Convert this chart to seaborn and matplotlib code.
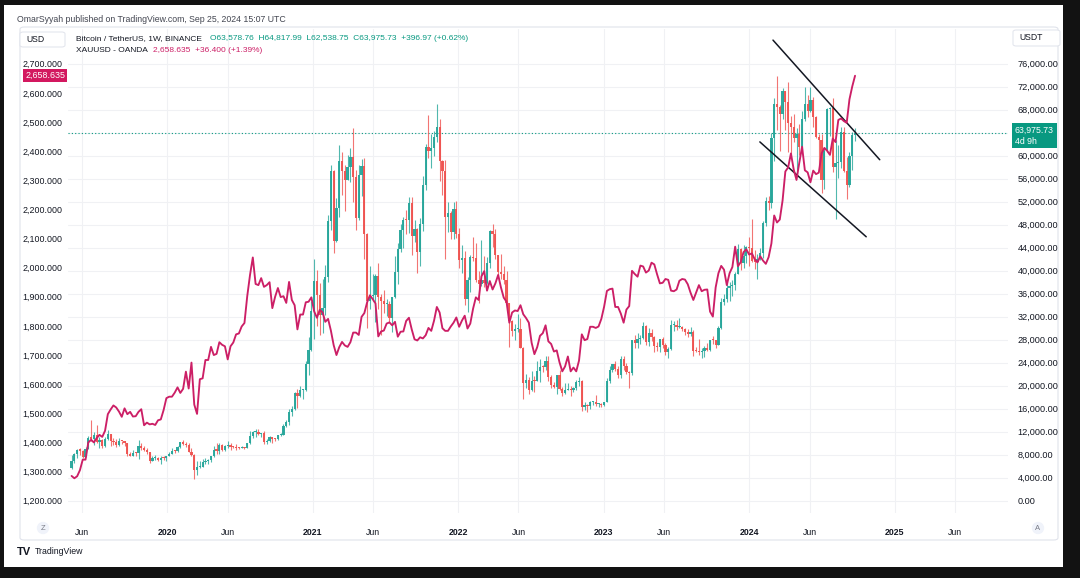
import numpy as np
import pandas as pd
import seaborn as sns
import matplotlib
matplotlib.use("Agg")
from matplotlib import pyplot as plt
from matplotlib.patches import FancyBboxPatch, Rectangle
from matplotlib.ticker import FuncFormatter

# ---- data: BTCUSDT weekly (Binance) + XAUUSD weekly close (Oanda) ----
first_week = "2019-05-06"
btc_first_open = 5690

btc_close = [
    # 2019
    6960, 8150, 8740, 8725, 7640, 8990, 10850, 10800, 11450, 10200, 10530, 9490, 10800,
    11550, 10310, 10140, 9630, 10400, 10300, 10030, 8040, 7860, 8280, 8220, 9550, 9200,
    8800, 8500, 6900, 7400, 7500, 7100, 7500, 7380, 7760,
    # 2020
    8180, 8700, 8600, 9330, 10150, 9900, 9660, 8530, 8030, 5360, 5800, 5880, 6770,
    6860, 7120, 7700, 8900, 8720, 9680, 8900, 9450, 9740, 9340, 9300, 9180, 9080,
    9300, 9160, 9950, 11200, 11900, 11900, 11650, 11700, 10250, 10330, 11080, 10770, 10670,
    11370, 11500, 13030, 13760, 15480, 16000, 18700, 18180, 19170, 19270, 23860, 26270, 33000,
    # 2021
    38150, 35790, 32260, 33510, 38850, 48580, 57400, 45130, 50970, 59030, 57360, 55800, 58080,
    59770, 56250, 49100, 56600, 58250, 46450, 34770, 35660, 35800, 39100, 35480, 34700, 34230,
    34240, 31780, 35400, 39850, 43800, 47100, 48900, 48850, 51800, 46060, 47250, 43200, 48200,
    54950, 61530, 60850, 61300, 63300, 65000, 59000, 57270, 49400, 50100, 46700, 50800, 46450,
    # 2022
    41860, 42200, 35050, 38460, 42400, 42200, 38350, 37700, 38400, 37780, 41260, 46820, 46400,
    42750, 39700, 39450, 38460, 34300, 31300, 29450, 29860, 29900, 26600, 20550, 21030, 19300,
    20850, 20800, 22580, 23300, 23180, 24300, 21530, 20040, 19800, 21830, 19420, 18800, 19300,
    19400, 19260, 19570, 20630, 20900, 16330, 16700, 16450, 17100, 17100, 16750, 16840, 16620,
    # 2023
    17130, 20880, 22700, 23750, 22950, 21800, 24650, 23500, 22430, 22150, 27950, 27480, 28180,
    28320, 30300, 27590, 29230, 28430, 26920, 26750, 28080, 27100, 25900, 26340, 30470, 30580,
    30170, 30250, 29850, 29280, 29050, 29300, 26050, 26000, 25850, 26100, 26570, 26250, 27970,
    27900, 27150, 29990, 34550, 35000, 37050, 37350, 37450, 39450, 43780, 41370, 42550, 44180,
    # 2024
    43950, 41730, 41580, 42050, 43000, 48300, 52100, 51700, 63100, 68950, 68400, 67200, 71300,
    69350, 65650, 64950, 63100, 63850, 61550, 66300, 69050, 67750, 69650, 66650, 63200, 62700,
    55850, 60800, 68150, 68250, 58100, 58700, 58900, 64200, 57300, 54850, 59950, 63578.76, 63975.73,
]

btc_high = [
    # 2019
    7950, 8300, 8950, 9100, 8830, 9400, 11230, 13970, 12000, 13200, 11100, 10650, 11000,
    12320, 11550, 10950, 10650, 10950, 10450, 10350, 10050, 8500, 8800, 8400, 10540, 9950,
    9600, 9100, 8500, 7850, 7950, 7650, 7700, 7700, 7850,
    # 2020
    8450, 9200, 8800, 9600, 10160, 10500, 10250, 9960, 9190, 8200, 6900, 6980, 7300,
    7460, 7290, 7800, 9460, 10000, 9950, 9900, 9740, 10400, 10000, 9590, 9780, 9380,
    9480, 9400, 10000, 12100, 12100, 12490, 12480, 11800, 12100, 10800, 11180, 11100, 10950,
    11500, 11720, 13350, 14100, 15970, 16480, 18900, 19480, 19920, 19400, 24300, 28400, 34780,
    # 2021
    41950, 40100, 37850, 38530, 40950, 49700, 58350, 57500, 52650, 61780, 60600, 58400, 60200,
    61300, 64850, 57500, 58450, 59500, 59600, 46600, 40900, 39480, 39500, 41300, 36000, 36600,
    35100, 34650, 34500, 42600, 44800, 48150, 49380, 50500, 52900, 52900, 48850, 47400, 49200,
    56500, 62000, 67000, 63700, 64300, 69000, 66300, 59300, 59200, 51900, 50300, 51900, 52100,
    # 2022
    47500, 44500, 43500, 38900, 42650, 45850, 44750, 40000, 45400, 42600, 42300, 47000, 48200,
    47200, 42800, 42980, 40800, 40000, 34300, 31400, 30650, 32400, 31800, 26800, 22000, 21500,
    22500, 21600, 24300, 24650, 23650, 25200, 25200, 21850, 20580, 21860, 22800, 19700, 20400,
    20450, 19950, 19700, 21000, 21480, 21000, 17200, 16900, 17400, 17420, 18400, 17000, 17000,
    # 2023
    17200, 21300, 23350, 23800, 24250, 23450, 25250, 25250, 23900, 22600, 28000, 28900, 29200,
    28900, 31000, 30550, 30050, 29800, 28700, 27650, 28200, 28450, 27400, 26800, 31400, 31200,
    31450, 31800, 30450, 29950, 29800, 30250, 29700, 26800, 28150, 26550, 26900, 27480, 28000,
    28600, 28000, 30300, 35200, 35950, 37950, 38000, 38400, 39700, 44700, 44000, 44400, 44250,
    # 2024
    45900, 49000, 43580, 42850, 43900, 48600, 52800, 52950, 64000, 70100, 73800, 68900, 71750,
    71300, 72800, 66900, 67250, 64750, 65500, 67700, 71950, 70600, 71950, 70200, 66900, 63800,
    63850, 61400, 68350, 68500, 70000, 62750, 61800, 65000, 64950, 59800, 60650, 64150, 64817.99,
]

btc_low = [
    # 2019
    5590, 6600, 7500, 8000, 7440, 7520, 8980, 10300, 9650, 10100, 9100, 9150, 9380,
    10600, 9460, 9750, 9350, 9600, 9900, 9600, 7700, 7700, 7780, 7840, 7300, 8900,
    8650, 8050, 6500, 6860, 7100, 6950, 6430, 7150, 6850,
    # 2020
    7700, 8050, 8250, 8500, 9150, 9700, 9300, 8450, 7850, 3780, 4440, 5700, 5850,
    6450, 6460, 6800, 7670, 8100, 8200, 8700, 8630, 9250, 8900, 9200, 8830, 8950,
    9100, 9000, 9130, 9900, 10950, 11150, 11370, 11120, 9800, 9880, 10200, 10100, 10370,
    10520, 11200, 11400, 12900, 13200, 14800, 15800, 16200, 18100, 17600, 19000, 21800, 26070,
    # 2021
    28130, 30420, 28850, 29240, 32300, 37990, 47000, 43000, 45000, 49300, 53220, 50300, 55800,
    55400, 52000, 47000, 48750, 53000, 42100, 30000, 33400, 34800, 31000, 33300, 28800, 32700,
    32100, 31000, 29280, 35200, 37600, 43300, 43900, 46400, 46600, 42800, 45000, 39600, 40750,
    46900, 54000, 59600, 57800, 60000, 62300, 55600, 53250, 42000, 46700, 45500, 45500, 45700,
    # 2022
    40500, 39650, 34000, 32900, 36250, 41650, 38000, 34300, 37400, 37150, 37600, 40500, 44200,
    42100, 39200, 38550, 37600, 33700, 26700, 28650, 28000, 29300, 26500, 17600, 19600, 18600,
    19000, 18900, 20750, 20700, 22400, 22650, 20800, 19520, 19550, 18550, 19300, 18150, 18550,
    19300, 18200, 18900, 19250, 20000, 15600, 15800, 15480, 16000, 16700, 16500, 16300, 16350,
    # 2023
    16550, 17100, 20400, 22300, 22500, 21350, 21350, 22800, 21950, 19550, 21900, 26600, 26550,
    27200, 28200, 27100, 26950, 27700, 25800, 26100, 25900, 26500, 25350, 24800, 26250, 29500,
    29700, 29950, 29500, 28850, 28550, 28700, 25150, 25800, 25350, 24900, 24930, 26000, 26000,
    27200, 26550, 27100, 29850, 33950, 34550, 34800, 35650, 36700, 39350, 40200, 40550, 41300,
    # 2024
    40750, 41500, 40280, 38550, 41850, 42250, 47700, 50550, 50900, 59000, 64550, 60800, 66400,
    64500, 60650, 59600, 62400, 56550, 60200, 60750, 66100, 66650, 67600, 65000, 63000, 58400,
    53500, 54250, 60600, 63450, 57100, 49000, 56100, 57850, 57200, 52550, 54600, 57500, 62538.75,
]

gold_close = [
    # 2019
    1285, 1277, 1284, 1305, 1341, 1341, 1400, 1409, 1400, 1415, 1426, 1419, 1440,
    1497, 1513, 1527, 1520, 1506, 1488, 1517, 1497, 1505, 1489, 1490, 1505, 1514,
    1459, 1468, 1462, 1464, 1460, 1476, 1479, 1511, 1552,
    # 2020
    1557, 1557, 1571, 1589, 1570, 1584, 1643, 1585, 1674, 1530, 1498, 1617, 1620,
    1683, 1683, 1728, 1700, 1704, 1744, 1735, 1730, 1685, 1730, 1743, 1771, 1774,
    1798, 1810, 1902, 1975, 2035, 1944, 1940, 1964, 1934, 1940, 1950, 1861, 1900,
    1930, 1899, 1902, 1879, 1951, 1889, 1871, 1788, 1839, 1839, 1881, 1883, 1898,
    # 2021
    1850, 1828, 1855, 1847, 1814, 1824, 1784, 1734, 1700, 1727, 1745, 1733, 1728,
    1744, 1777, 1777, 1769, 1831, 1844, 1881, 1905, 1892, 1877, 1764, 1781, 1784,
    1808, 1812, 1802, 1814, 1763, 1780, 1781, 1817, 1828, 1788, 1754, 1750, 1761,
    1757, 1768, 1793, 1783, 1818, 1865, 1846, 1792, 1783, 1783, 1798, 1811, 1829,
    # 2022
    1797, 1818, 1835, 1791, 1808, 1859, 1898, 1889, 1970, 1988, 1921, 1954, 1925,
    1946, 1975, 1932, 1897, 1883, 1811, 1846, 1853, 1851, 1871, 1840, 1827, 1811,
    1742, 1703, 1727, 1766, 1775, 1802, 1747, 1738, 1712, 1716, 1675, 1644, 1661,
    1695, 1644, 1657, 1644, 1681, 1771, 1751, 1755, 1797, 1797, 1793, 1798, 1824,
    # 2023
    1866, 1920, 1926, 1928, 1865, 1865, 1842, 1811, 1856, 1868, 1989, 1978, 1969,
    2007, 2004, 1983, 1990, 2017, 2011, 1977, 1946, 1948, 1961, 1958, 1921, 1919,
    1925, 1955, 1961, 1959, 1943, 1914, 1889, 1915, 1940, 1919, 1924, 1925, 1849,
    1832, 1932, 1981, 2006, 1993, 1940, 1981, 2002, 2072, 2005, 2019, 2053, 2063,
    # 2024
    2045, 2049, 2029, 2018, 2039, 2024, 2013, 2036, 2083, 2179, 2155, 2165, 2230,
    2330, 2344, 2392, 2337, 2301, 2360, 2415, 2334, 2327, 2293, 2333, 2321, 2326,
    2392, 2411, 2401, 2387, 2443, 2431, 2507, 2512, 2503, 2497, 2578, 2622, 2658.635,
]

# falling channel drawn by the author
upper_dates = ["2024-03-01", "2024-11-24"]
upper_prices = [80100, 59300]
lower_dates = ["2024-01-28", "2024-10-21"]
lower_prices = [62400, 45900]

tick_dates = ["2019-06-01", "2020-01-01", "2020-06-01", "2021-01-01", "2021-06-01",
              "2022-01-01", "2022-06-01", "2023-01-01", "2023-06-01", "2024-01-01",
              "2024-06-01", "2025-01-01", "2025-06-01"]
tick_labels = ["Jun", "2020", "Jun", "2021", "Jun", "2022", "Jun", "2023", "Jun",
               "2024", "Jun", "2025", "Jun"]

btc_last = 63975.73
gold_last = 2658.635

assert len(btc_close) == len(btc_high) == len(btc_low) == len(gold_close)

weeks = pd.date_range(first_week, periods=len(btc_close), freq="W-MON")
df = pd.DataFrame({"week": weeks, "close": btc_close, "high": btc_high,
                   "low": btc_low, "gold": gold_close})
df["open"] = [btc_first_open] + btc_close[:-1]
df["high"] = df[["high", "open", "close"]].max(axis=1)
df["low"] = df[["low", "open", "close"]].min(axis=1)
df["up"] = df["close"] >= df["open"]

UP = "#26a69a"
DOWN = "#ef5350"
GOLD = "#cc1f66"
W, H = 1080, 578

sns.set_style("white")
plt.rcParams["font.family"] = ["Liberation Sans", "DejaVu Sans"]


def fx(x):
    return x / W


def fy(y):
    return 1 - y / H


fig = plt.figure(figsize=(W / 100, H / 100), dpi=100)
fig.patch.set_facecolor("#121212")
fig.add_artist(Rectangle((fx(4), fy(567)), fx(1063 - 4), (567 - 5) / H,
                         transform=fig.transFigure, fc="white", ec="none", zorder=-5))
fig.add_artist(FancyBboxPatch((fx(20), fy(540)), fx(1058 - 20), (540 - 27) / H,
                              boxstyle="round,pad=0,rounding_size=0.004",
                              transform=fig.transFigure, fc="none", ec="#e0e3eb",
                              lw=0.8, zorder=-4))

ax = fig.add_axes([fx(68), fy(513), fx(1008 - 68), (513 - 29) / H])
ax.set_facecolor("none")
axg = ax.twinx()

# candles
cols = np.where(df["up"], UP, DOWN)
ax.vlines(df["week"], df["low"], df["high"], colors=cols, lw=0.8, alpha=0.8, zorder=2)
body_lo = df[["open", "close"]].min(axis=1)
body_h = (df["close"] - df["open"]).abs().clip(lower=200)
ax.bar(df["week"], body_h, bottom=body_lo, width=5.6, color=cols, lw=0, alpha=0.95, zorder=3)

ax.axhline(btc_last, color="#089981", ls=(0, (1, 2)), lw=0.8, zorder=1)
ax.plot(pd.to_datetime(upper_dates), upper_prices, color="#131722", lw=1.1, zorder=6)
ax.plot(pd.to_datetime(lower_dates), lower_prices, color="#131722", lw=1.1, zorder=6)

# gold line on left scale
sns.lineplot(data=df, x="week", y="gold", ax=axg, color=GOLD, lw=1.35)
axg.set_xlabel("")
axg.set_ylabel("")
ax.set_xlabel("")

ax.set_xlim(pd.Timestamp("2019-04-27"), pd.Timestamp("2025-10-12"))
ax.set_ylim(-2139, 82034)
axg.set_ylim(1157.8, 2819.1)

# 64,000 sits under the last-price tag, as on the reference
btc_ticks = np.arange(0, 76001, 4000)
ax.set_yticks(btc_ticks)
ax.set_yticklabels(["" if v == 64000 else f"{v:,.2f}" for v in btc_ticks])
ax.yaxis.tick_right()
axg.set_yticks(np.arange(1200, 2701, 100))
axg.yaxis.set_major_formatter(FuncFormatter(lambda v, p: f"{v:,.3f}"))
axg.yaxis.tick_left()

ax.set_xticks(pd.to_datetime(tick_dates))
ax.set_xticklabels(tick_labels)
for lab in ax.get_xticklabels():
    if lab.get_text() != "Jun":
        lab.set_fontweight("bold")

ax.tick_params(axis="y", length=0, pad=7, labelsize=6.6, labelcolor="#131722")
axg.tick_params(axis="y", length=0, pad=4, labelsize=6.4, labelcolor="#131722")
ax.tick_params(axis="x", length=0, pad=11, labelsize=6.3, labelcolor="#131722")
ax.grid(True, color="#f0f1f4", lw=0.8)
axg.grid(False)
for a in (ax, axg):
    for s in a.spines.values():
        s.set_visible(False)

# last price labels
ax.annotate("63,975.73\n4d 9h", xy=(1.0, btc_last), xycoords=ax.get_yaxis_transform(),
            xytext=(5, 5), textcoords="offset points", ha="left", va="top",
            fontsize=6.3, color="white", linespacing=1.25, annotation_clip=False,
            bbox=dict(boxstyle="square,pad=0.3", fc="#089981", ec="none"), zorder=10)
axg.annotate(f"{gold_last:,.3f}", xy=(0.0, gold_last), xycoords=axg.get_yaxis_transform(),
             xytext=(-2, 0), textcoords="offset points", ha="right", va="center",
             fontsize=6.4, color="white", annotation_clip=False,
             bbox=dict(boxstyle="square,pad=0.25", fc="#d3185f", ec="none"), zorder=10)

# header / legend
fig.text(fx(17), fy(19), "OmarSyyah published on TradingView.com, Sep 25, 2024 15:07 UTC",
         fontsize=6.3, color="#434651", va="center")
fig.text(fx(76), fy(39), "Bitcoin / TetherUS, 1W, BINANCE", fontsize=6.0,
         color="#131722", va="center")
fig.text(fx(210), fy(39), "O63,578.76  H64,817.99  L62,538.75  C63,975.73  +396.97 (+0.62%)",
         fontsize=6.0, color="#089981", va="center")
fig.text(fx(76), fy(50), "XAUUSD - OANDA", fontsize=6.0, color="#131722", va="center")
fig.text(fx(153), fy(50), "2,658.635  +36.400 (+1.39%)", fontsize=6.0, color=GOLD, va="center")

fig.add_artist(FancyBboxPatch((fx(20), fy(47)), fx(45), 15 / H,
                              boxstyle="round,pad=0,rounding_size=0.003",
                              transform=fig.transFigure, fc="white", ec="#e0e3eb", lw=0.7))
fig.text(fx(26), fy(39.5), "USD", fontsize=6.2, color="#131722", va="center")
fig.add_artist(FancyBboxPatch((fx(1013), fy(46)), fx(47), 16 / H,
                              boxstyle="round,pad=0,rounding_size=0.003",
                              transform=fig.transFigure, fc="white", ec="#e0e3eb", lw=0.7))
fig.text(fx(1019), fy(38), "USDT", fontsize=6.2, color="#131722", va="center")

# Z / A buttons
for xc, letter in [(43, "Z"), (1038, "A")]:
    fig.text(fx(xc), fy(528), letter, fontsize=5.5, color="#787b86", ha="center", va="center",
             bbox=dict(boxstyle="circle,pad=0.35", fc="#f0f3fa", ec="none"))

# TradingView logo
fig.text(fx(17), fy(552), "TV", fontsize=8, fontweight="bold", color="#131722", va="center")
fig.text(fx(35), fy(552), "TradingView", fontsize=6.3, color="#131722", va="center")

fig.savefig("out.png", dpi=100, facecolor=fig.get_facecolor())
